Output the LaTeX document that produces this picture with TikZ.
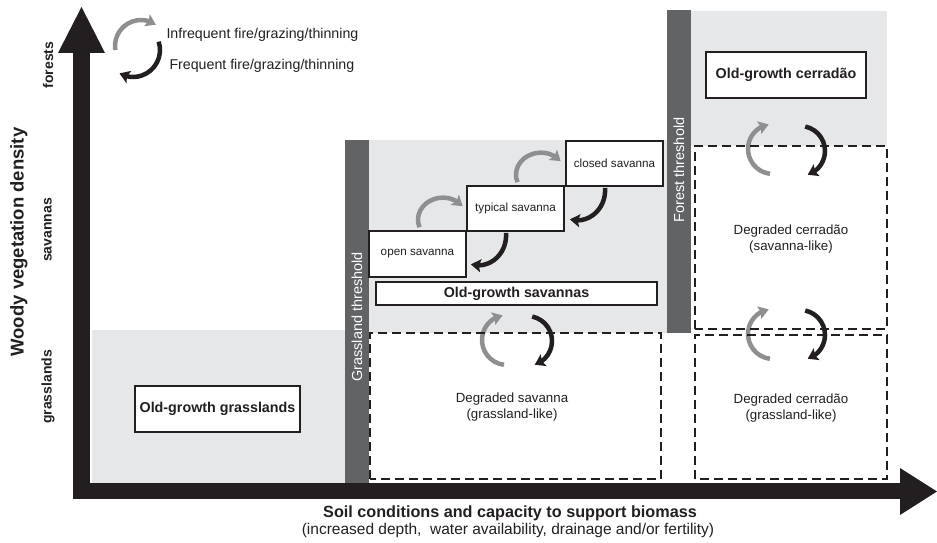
\documentclass[tikz,border=0pt]{standalone}
\usepackage{fontspec}
\setmainfont{Liberation Sans}
\usetikzlibrary{arrows.meta,bending}
\definecolor{lgray}{HTML}{E6E7E8}
\definecolor{barg}{HTML}{626365}
\definecolor{arrg}{HTML}{8E8F91}
\definecolor{ink}{HTML}{231F20}
\begin{document}
\begin{tikzpicture}[x=1pt,y=1pt,
  box/.style={draw=ink, line width=1.6pt, fill=white, inner sep=0pt, text=ink},
  bigbox/.style={box, font=\bfseries\fontsize{14.3}{17}\selectfont},
  smallbox/.style={box, font=\fontsize{11.7}{14}\selectfont},
  dbox/.style={draw=ink, line width=1.8pt, dash pattern=on 9pt off 5pt},
  garr/.style={draw=arrg, line width=4.5pt, -{Stealth[length=10pt,width=13pt,inset=2pt]}},
  barr/.style={draw=ink, line width=4.5pt, -{Stealth[length=10pt,width=13pt,inset=2pt]}},
  degr/.style={align=center, text=ink, font=\fontsize{13.3}{15.5}\selectfont},
  thr/.style={rotate=90, text=white, font=\fontsize{14.5}{17}\selectfont},
  ylev/.style={rotate=90, text=ink, font=\bfseries\fontsize{14}{16}\selectfont}]
\useasboundingbox (0,0) rectangle (937,543);
% background regions
\fill[lgray] (92,60) rectangle (345,213);
\fill[lgray] (369,210) rectangle (667,403);
\fill[lgray] (691,397) rectangle (887,532);
% threshold bars
\fill[barg] (345,60) rectangle (369,403);
\fill[barg] (667,210) rectangle (691,533);
\node[thr] (gth) at (357,226) {Grassland threshold};
\node[thr] (fth) at (679,373) {Forest threshold};
% old-growth boxes
\node[bigbox, minimum width=165pt, minimum height=46pt] (ogg) at (217.5,134) {Old-growth grasslands};
\node[bigbox, minimum width=281pt, minimum height=23pt] (ogs) at (516.5,249.5) {Old-growth savannas};
\node[bigbox, minimum width=160pt, minimum height=46pt] (ogc) at (786,468) {Old-growth cerradão};
% savanna staircase
\node[smallbox, minimum width=97pt, minimum height=46pt] (open) at (417.5,289) {open savanna};
\node[smallbox, minimum width=97pt, minimum height=45pt] (typ) at (515.5,334.5) {typical savanna};
\node[smallbox, minimum width=97pt, minimum height=45pt] (clo) at (614.5,379.5) {closed savanna};
\draw[garr] ([xshift=2pt,yshift=3pt]open.north) arc[start angle=200,end angle=38,x radius=25,y radius=22];
\draw[garr] ([xshift=2pt,yshift=3pt]typ.north) arc[start angle=200,end angle=38,x radius=25,y radius=22];
\draw[barr] ([xshift=-9.5pt,yshift=-1pt]typ.south) arc[start angle=5,end angle=-105,x radius=28,y radius=30];
\draw[barr] ([xshift=-9.5pt,yshift=-1pt]clo.south) arc[start angle=5,end angle=-105,x radius=28,y radius=30];
% cycle pairs
\draw[garr] ([shift={(263:25)}]507,203) arc[start angle=263,end angle=100,radius=25];
\draw[barr] ([shift={(78:25)}]527,202) arc[start angle=78,end angle=-72,radius=25];
\draw[garr] ([shift={(263:25)}]773,394) arc[start angle=263,end angle=100,radius=25];
\draw[barr] ([shift={(78:25)}]800,392) arc[start angle=78,end angle=-72,radius=25];
\draw[garr] ([shift={(263:25)}]773,209) arc[start angle=263,end angle=100,radius=25];
\draw[barr] ([shift={(78:25)}]800,208) arc[start angle=78,end angle=-72,radius=25];
% degraded (dashed) boxes
\draw[dbox] (370,64) rectangle (661,210);
\draw[dbox] (695,214) rectangle (887,397);
\draw[dbox] (695,64) rectangle (887,208);
\node[degr] (dsav) at (512,136) {Degraded savanna\\(grassland-like)};
\node[degr] (dcs) at (791,304) {Degraded cerradão\\(savanna-like)};
\node[degr] (dcg) at (791,135) {Degraded cerradão\\(grassland-like)};
% legend
\draw[garr] ([shift={(189:26)}]141,497) arc[start angle=189,end angle=55,radius=26];
\draw[barr] ([shift={(18:27)}]133,493) arc[start angle=18,end angle=-120,radius=27];
\node[anchor=base west, text=ink, font=\fontsize{14.2}{17}\selectfont] (lg1) at (163,504) {Infrequent fire/grazing/thinning};
\node[anchor=base west, text=ink, font=\fontsize{14.2}{17}\selectfont] (lg2) at (166,473) {Frequent fire/grazing/thinning};
% axes
\fill[ink] (73,44) rectangle (90,490);
\fill[ink] (58,490) -- (105,490) -- (81.5,536) -- cycle;
\fill[ink] (73,44) rectangle (900,60);
\fill[ink] (900,75) -- (900,28) -- (937,51.5) -- cycle;
% axis labels
\node[rotate=90, text=ink, font=\bfseries\fontsize{18.5}{21}\selectfont] (ylab) at (19,301) {Woody vegetation density};
\node[ylev] (lfor) at (48,478) {forests};
\node[ylev] (lsav) at (48,313) {savannas};
\node[ylev] (lgra) at (48,156) {grasslands};
\node[anchor=base, text=ink, font=\bfseries\fontsize{16.2}{19}\selectfont] (xlab) at (510,25) {Soil conditions and capacity to support biomass};
\node[anchor=base, text=ink, font=\fontsize{15.5}{18}\selectfont] (xsub) at (508,8) {(increased depth,\ \ water availability, drainage and/or fertility)};
\end{tikzpicture}
\end{document}
